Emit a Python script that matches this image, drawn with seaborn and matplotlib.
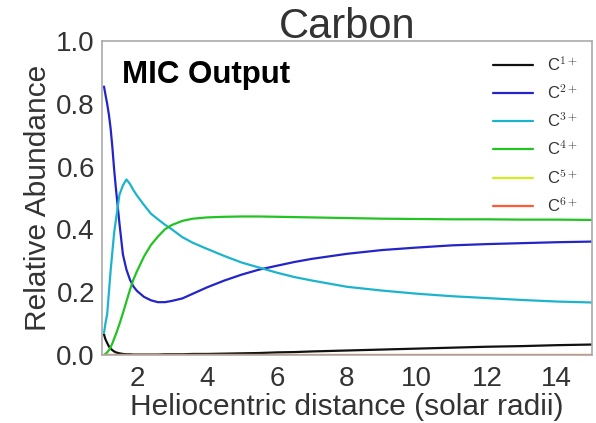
import matplotlib
matplotlib.use("Agg")
import matplotlib.pyplot as plt
import pandas as pd
import seaborn as sns

# Heliocentric distance grid (solar radii)
distance = [1.06, 1.1, 1.15, 1.2, 1.25, 1.3, 1.35, 1.4, 1.5, 1.6, 1.7, 1.8, 1.9,
            2.0, 2.2, 2.4, 2.6, 2.8, 3.0, 3.3, 3.6, 4.0, 4.5, 5.0, 5.5, 6.0,
            6.5, 7.0, 8.0, 9.0, 10.0, 11.0, 12.0, 13.0, 14.0, 15.0]

# Relative abundance of each carbon charge state
c1 = [0.065, 0.05, 0.038, 0.027, 0.02, 0.015, 0.011, 0.008, 0.005, 0.003, 0.002,
      0.002, 0.001, 0.001, 0.001, 0.001, 0.001, 0.002, 0.002, 0.002, 0.003, 0.003,
      0.004, 0.005, 0.006, 0.008, 0.009, 0.011, 0.014, 0.017, 0.02, 0.023, 0.026,
      0.028, 0.031, 0.033]
c2 = [0.855, 0.83, 0.80, 0.765, 0.72, 0.66, 0.59, 0.53, 0.42, 0.32, 0.272, 0.24,
      0.218, 0.204, 0.185, 0.174, 0.168, 0.168, 0.172, 0.180, 0.195, 0.215, 0.237,
      0.256, 0.272, 0.284, 0.296, 0.306, 0.322, 0.334, 0.342, 0.349, 0.353, 0.356,
      0.359, 0.361]
c3 = [0.07, 0.10, 0.13, 0.20, 0.27, 0.33, 0.39, 0.43, 0.51, 0.54, 0.559, 0.545,
      0.525, 0.508, 0.478, 0.45, 0.432, 0.415, 0.40, 0.375, 0.357, 0.338, 0.315,
      0.294, 0.278, 0.262, 0.248, 0.237, 0.217, 0.205, 0.195, 0.187, 0.181, 0.175,
      0.170, 0.167]
c4 = [0.0, 0.003, 0.008, 0.015, 0.025, 0.037, 0.052, 0.066, 0.098, 0.133, 0.17,
      0.207, 0.24, 0.266, 0.313, 0.35, 0.377, 0.40, 0.414, 0.427, 0.434, 0.438,
      0.440, 0.441, 0.441, 0.440, 0.439, 0.438, 0.436, 0.434, 0.433, 0.432, 0.432,
      0.431, 0.431, 0.430]
c5 = [0.0, 0.0, 0.0, 0.0, 0.0, 0.0, 0.0, 0.0, 0.0, 0.0, 0.0, 0.0, 0.0, 0.0, 0.0,
      0.0, 0.0, 0.0, 0.0, 0.0, 0.0, 0.0, 0.0, 0.0, 0.0, 0.0, 0.0, 0.0, 0.0, 0.0,
      0.0, 0.0, 0.0, 0.0, 0.0, 0.0]
c6 = [0.0, 0.0, 0.0, 0.0, 0.0, 0.0, 0.0, 0.0, 0.0, 0.0, 0.0, 0.0, 0.0, 0.0, 0.0,
      0.0, 0.0, 0.0, 0.0, 0.0, 0.0, 0.0, 0.0, 0.0, 0.0, 0.0, 0.0, 0.0, 0.0, 0.0,
      0.0, 0.0, 0.0, 0.0, 0.0, 0.0]

ion_labels = [r"C$^{1+}$", r"C$^{2+}$", r"C$^{3+}$", r"C$^{4+}$", r"C$^{5+}$", r"C$^{6+}$"]
ion_colors = ["#111111", "#2424c8", "#1cb4cc", "#22c322", "#d2ee22", "#ff5a35"]

frames = []
for label, values in zip(ion_labels, [c1, c2, c3, c4, c5, c6]):
    frames.append(pd.DataFrame({"distance": distance, "abundance": values, "ion": label}))
df = pd.concat(frames, ignore_index=True)

sns.set_style("white")
plt.rcParams["font.family"] = ["Liberation Sans", "DejaVu Sans"]
plt.rcParams["mathtext.fontset"] = "cm"
text_color = "#333333"

fig = plt.figure(figsize=(5.96, 4.23), dpi=100)
ax = fig.add_axes([0.171, 0.161, 0.822, 0.742])

sns.lineplot(data=df, x="distance", y="abundance", hue="ion",
             hue_order=ion_labels, palette=ion_colors, linewidth=1.6,
             estimator=None, sort=False, ax=ax)

ax.set_xlim(1, 15)
ax.set_ylim(0, 1.0)
ax.set_xticks([2, 4, 6, 8, 10, 12, 14])
ax.set_yticks([0.0, 0.2, 0.4, 0.6, 0.8, 1.0])
ax.set_yticklabels(["0.0", "0.2", "0.4", "0.6", "0.8", "1.0"])
ax.tick_params(axis="both", labelsize=20, colors=text_color, length=0)
ax.tick_params(axis="x", pad=8)
ax.tick_params(axis="y", pad=5)

for spine in ax.spines.values():
    spine.set_color("#aaaaaa")
    spine.set_linewidth(1.2)

ax.set_xlabel("Heliocentric distance (solar radii)", fontsize=21.5, color=text_color, labelpad=1)
ax.set_ylabel("Relative Abundance", fontsize=21.5, color=text_color, labelpad=3)
ax.set_title("Carbon", fontsize=30, color=text_color, pad=2)

ax.text(0.041, 0.892, "MIC Output", transform=ax.transAxes, fontsize=22.5,
        fontweight="bold", color="black", va="center", ha="left")

leg = ax.legend(loc="upper right", frameon=False, fontsize=12, handlelength=2.4,
                handletextpad=0.8, labelspacing=0.56, borderaxespad=0.45)
for t in leg.get_texts():
    t.set_color(text_color)

fig.savefig("out.png", dpi=100)
